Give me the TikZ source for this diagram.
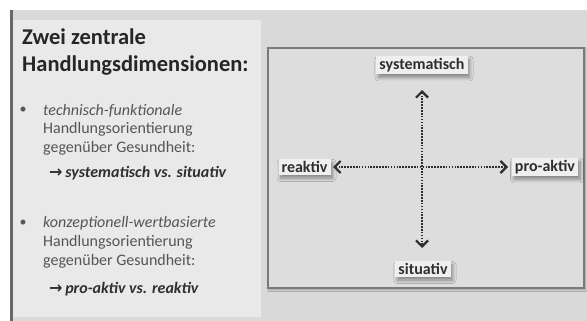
\documentclass[tikz,border=0pt]{standalone}
\usepackage{fontspec}
\setmainfont{Carlito}
\newfontfamily\symfont{DejaVu Sans}
\usetikzlibrary{arrows.meta,shadows,shadows.blur}
\definecolor{slidebg}{HTML}{D9D9D9}
\definecolor{panelbg}{HTML}{E9E9E9}
\definecolor{boxbg}{HTML}{DDDDDD}
\definecolor{boxline}{HTML}{7A7A7A}
\definecolor{titlecol}{HTML}{262626}
\definecolor{bodycol}{HTML}{555555}
\definecolor{darkcol}{HTML}{2E2E2E}
\definecolor{labelbg}{HTML}{EFEFEF}
\tikzset{
  title/.style={anchor=base west, inner sep=0pt, text=titlecol, font=\fontsize{22.5}{27}\selectfont\bfseries},
  body/.style={anchor=base west, inner sep=0pt, text=bodycol, font=\fontsize{16}{19}\selectfont},
  bodyit/.style={body, font=\fontsize{16}{19}\selectfont\itshape},
  concl/.style={anchor=base west, inner sep=0pt, text=darkcol, font=\fontsize{16}{19}\selectfont\bfseries\itshape},
  bulletmark/.style={inner sep=0pt, text=bodycol, font=\fontsize{14}{16}\selectfont},
  label/.style={fill=labelbg, text=darkcol, inner xsep=3pt, inner ysep=2pt,
    font=\fontsize{16}{19}\selectfont\bfseries,
    blur shadow={shadow xshift=2pt, shadow yshift=-3.5pt, shadow opacity=40, shadow blur steps=8, shadow blur radius=3.5pt}},
  axis/.style={darkcol, line width=2pt, dash pattern=on 1.6pt off 1.3pt,
    {Straight Barb[length=6pt,width=12pt,line width=2.2pt]}-{Straight Barb[length=6pt,width=12pt,line width=2.2pt]}}
}
\begin{document}
\begin{tikzpicture}[x=1pt,y=-1pt]
\useasboundingbox (0,0) rectangle (587,321);
\fill[white] (0,0) rectangle (587,321);
% slide background
\fill[slidebg] (10,10) rectangle (587,321);
% left panel
\fill[panelbg] (13,20) rectangle (261,317);
% left vertical bar
\fill[boxline!85!black] (10,10) rectangle (12.5,321);
% title
\node[title] (t1) at (22,45) {Zwei zentrale};
\node[title] (t2) at (22,72) {Handlungsdimensionen:};
% first bullet
\node[bulletmark] (b1) at (23,110) {•};
\node[bodyit] (a1) at (43,115) {technisch-funktionale};
\node[body] (a2) at (43,133.5) {Handlungsorientierung};
\node[body] (a3) at (43,152) {gegenüber Gesundheit:};
\node[concl] (a4) at (49,177) {{\symfont\bfseries\upshape →}\,systematisch vs. situativ};
% second bullet
\node[bulletmark] (b2) at (23,223) {•};
\node[bodyit] (c1) at (43,227) {konzeptionell-wertbasierte};
\node[body] (c2) at (43,246) {Handlungsorientierung};
\node[body] (c3) at (43,265) {gegenüber Gesundheit:};
\node[concl] (c4) at (49,293) {{\symfont\bfseries\upshape →}\,pro-aktiv vs. reaktiv};
% right box
\draw[boxline, line width=1.3pt, fill=boxbg,
  blur shadow={shadow xshift=1pt, shadow yshift=-1.5pt, shadow opacity=35, shadow blur steps=4, shadow blur radius=2pt}]
  (268,48) rectangle (584,288);
% labels
\node[label] (sys) at (422,65) {systematisch};
\node[label] (rea) at (304.5,167) {reaktiv};
\node[label] (pro) at (545,167) {pro-aktiv};
\node[label] (sit) at (423,269) {situativ};
% axes
\coordinate (top) at (422,90);
\coordinate (bot) at (422,248);
\coordinate (lft) at (333,167);
\coordinate (rgt) at (508,167);
\draw[axis] (lft) -- (rgt);
\draw[axis] (top) -- (bot);
\end{tikzpicture}
\end{document}
